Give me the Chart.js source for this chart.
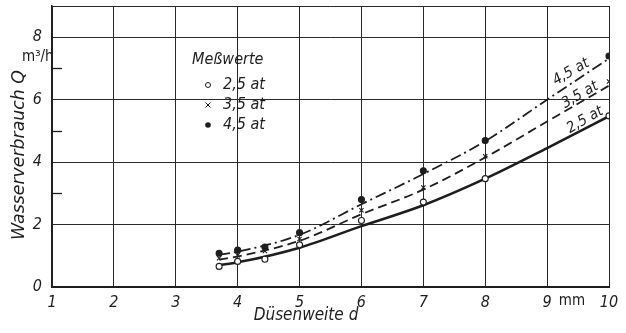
<!DOCTYPE html>
<html>
<head>
<meta charset="utf-8">
<script src="https://cdn.jsdelivr.net/npm/chart.js@4"></script>
<style>
html,body{margin:0;padding:0;background:#fff;}
#wrap{width:626px;height:333px;position:relative;}
</style>
</head>
<body>
<div id="wrap"><canvas id="c" width="626" height="333"></canvas></div>
<script>
// Measured values (Meßwerte): nozzle width d [mm] -> water consumption Q [m³/h]
const measD = [3.7, 4, 4.44, 5, 6, 7, 8, 10];
const meas25 = [0.66, 0.82, 0.89, 1.35, 2.13, 2.72, 3.47, 5.48];
const meas35 = [0.92, 1.02, 1.15, 1.54, 2.46, 3.19, 4.19, 6.58];
const meas45 = [1.08, 1.18, 1.28, 1.74, 2.80, 3.72, 4.69, 7.40];

// Fitted curves
const curveD = [3.7, 4, 5, 6, 7, 8, 9, 10];
const curve25 = [0.70, 0.79, 1.26, 1.95, 2.62, 3.47, 4.45, 5.47];
const curve35 = [0.88, 0.98, 1.48, 2.33, 3.12, 4.15, 5.30, 6.45];
const curve45 = [1.03, 1.13, 1.67, 2.65, 3.62, 4.67, 6.00, 7.32];

const seriesLabels = ['2,5 at', '3,5 at', '4,5 at'];
const xTickLabels = ['1','2','3','4','5','6','7','8','9','10'];
const yTickLabels = {0:'0', 2:'2', 4:'4', 6:'6', 8:'8'};
const yMinorTicks = [3, 5, 7];
const legendTitle = 'Meßwerte';
const xTitle = 'Düsenweite d';
const yTitle = 'Wasserverbrauch Q';
const yUnit = 'm³/h';
const xUnit = 'mm';

const INK = '#1e1e1e';
const FONT = "'DejaVu Sans Condensed','Liberation Sans Narrow','DejaVu Sans',sans-serif";

function pts(xs, ys){ return xs.map((x,i)=>({x:x, y:ys[i]})); }

const overlay = {
  id: 'overlay',
  afterDraw(chart){
    const ctx = chart.ctx, xs = chart.scales.x, ys = chart.scales.y;
    ctx.save();
    ctx.fillStyle = INK; ctx.strokeStyle = INK;
    // minor ticks on y axis (inward)
    ctx.lineWidth = 1.3;
    yMinorTicks.forEach(v=>{
      const y = Math.round(ys.getPixelForValue(v))+0.5;
      ctx.beginPath(); ctx.moveTo(xs.left, y); ctx.lineTo(xs.left+10, y); ctx.stroke();
    });
    // y title (rotated)
    ctx.save();
    ctx.translate(20, 155);
    ctx.rotate(-Math.PI/2);
    ctx.font = 'italic 17px ' + FONT;
    ctx.textAlign = 'center'; ctx.textBaseline = 'middle';
    let w = ctx.measureText(yTitle).width;
    ctx.scale(170/w, 1);
    ctx.fillText(yTitle, 0, 0);
    ctx.restore();
    // unit m³/h
    ctx.font = '15px ' + FONT;
    ctx.textAlign = 'left'; ctx.textBaseline = 'middle';
    ctx.fillText(yUnit, 22, 57);
    // x title
    ctx.font = 'italic 17px ' + FONT;
    ctx.textAlign = 'center';
    ctx.fillText(xTitle, 306, 316);
    // x unit mm
    ctx.font = '15px ' + FONT;
    ctx.fillText(xUnit, 572, 301);
    // legend
    ctx.font = 'italic 16px ' + FONT;
    ctx.textAlign = 'left';
    ctx.fillText(legendTitle, 192, 60);
    const ly = [85, 105, 125];
    seriesLabels.forEach((t,i)=>{
      ctx.fillText(t, 223, ly[i]);
      const mx = 208, my = ly[i];
      ctx.lineWidth = 1;
      if(i===0){ ctx.beginPath(); ctx.arc(mx,my,2.5,0,Math.PI*2); ctx.stroke(); }
      else if(i===1){ ctx.beginPath(); ctx.moveTo(mx-2.5,my-2.5); ctx.lineTo(mx+2.5,my+2.5); ctx.moveTo(mx+2.5,my-2.5); ctx.lineTo(mx-2.5,my+2.5); ctx.stroke(); }
      else { ctx.beginPath(); ctx.arc(mx,my,2.8,0,Math.PI*2); ctx.fill(); }
    });
    // curve labels
    const cl = [[2,571,72],[1,580,95],[0,585,120]];
    ctx.font = 'italic 15px ' + FONT;
    ctx.textAlign = 'center';
    cl.forEach(([i,x,y])=>{
      ctx.save(); ctx.translate(x,y); ctx.rotate(-0.52);
      ctx.fillText(seriesLabels[i],0,0);
      ctx.restore();
    });
    ctx.restore();
  }
};

const curveStyles = [
  {borderWidth:2.6, borderDash:[]},
  {borderWidth:1.8, borderDash:[9,5]},
  {borderWidth:1.8, borderDash:[11,4,2,4]}
];
const curves = [curve25, curve35, curve45];
const meas = [meas25, meas35, meas45];

const datasets = [];
curves.forEach((c,i)=>{
  datasets.push({
    type:'line', label: seriesLabels[i]+' curve', data: pts(curveD, c),
    borderColor: INK, borderWidth: curveStyles[i].borderWidth, borderDash: curveStyles[i].borderDash,
    pointRadius: 0, fill:false, cubicInterpolationMode:'monotone', tension:0.4, order: 2
  });
});
const pStyles = [
  {pointStyle:'circle', backgroundColor:'#fff', radius:3},
  {pointStyle:'crossRot', backgroundColor:INK, radius:3},
  {pointStyle:'circle', backgroundColor:INK, radius:3}
];
meas.forEach((m,i)=>{
  datasets.push({
    type:'scatter', label: seriesLabels[i], data: pts(measD, m),
    showLine:false, pointStyle: pStyles[i].pointStyle, pointRadius: pStyles[i].radius,
    pointBackgroundColor: pStyles[i].backgroundColor, pointBorderColor: INK, pointBorderWidth: 1.1,
    order: 1
  });
});

new Chart(document.getElementById('c'), {
  type: 'scatter',
  data: { datasets },
  options: {
    responsive: false, animation: false,
    layout: { padding: { top: 6, right: 17, left: 0, bottom: 0 } },
    plugins: { legend: {display:false}, tooltip: {enabled:false} },
    scales: {
      x: {
        type:'linear', min:1, max:10,
        afterFit(s){ s.height = 46; s.paddingLeft = 0; s.paddingRight = 0; },
        ticks: { stepSize:1, color: INK, padding: 6,
          font: { family: FONT, size: 16, style:'italic' },
          callback: (v)=> xTickLabels[v-1] ?? '' },
        grid: { color: '#2a2a2a', lineWidth: 1, drawTicks:false },
        border: { display:true, color: INK, width: 2 }
      },
      y: {
        type:'linear', min:0, max:9,
        afterFit(s){ s.width = 52; s.paddingTop = 0; s.paddingBottom = 0; },
        ticks: { stepSize:1, color: INK, padding: 10,
          font: { family: FONT, size: 16, style:'italic' },
          callback: (v)=> yTickLabels[v] ?? '' },
        grid: { drawTicks:false, lineWidth: 1,
          color: (c)=> (c.tick && (c.tick.value % 2 === 0 || c.tick.value === 9)) ? '#2a2a2a' : 'rgba(0,0,0,0)' },
        border: { display:true, color: INK, width: 1.5 }
      }
    }
  },
  plugins: [overlay]
});
</script>
</body>
</html>
